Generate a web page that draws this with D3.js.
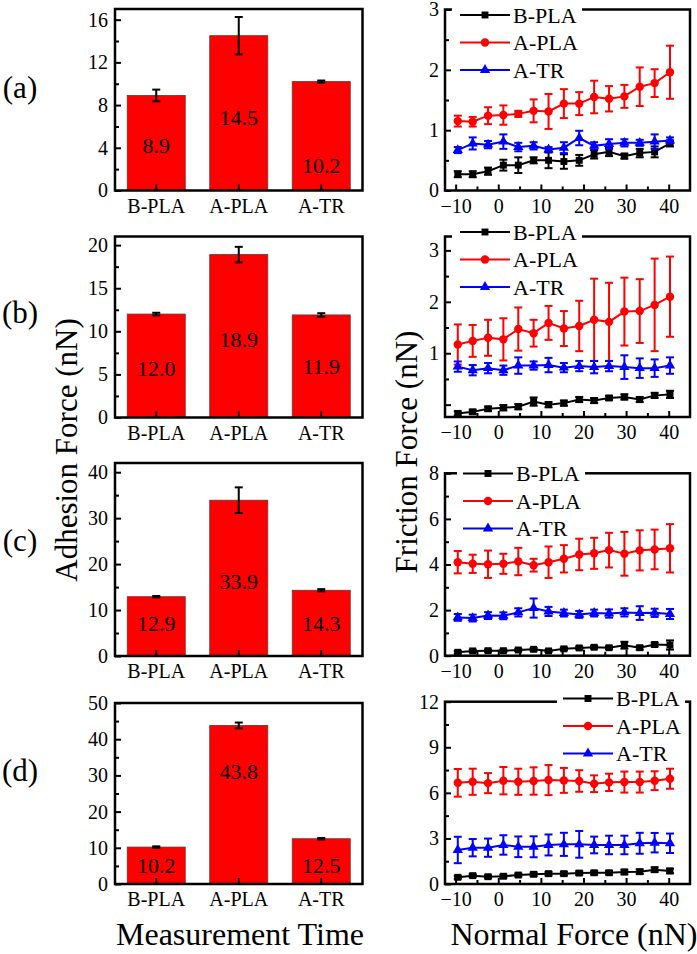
<!DOCTYPE html>
<html><head><meta charset="utf-8">
<script src="https://cdn.jsdelivr.net/npm/d3@7"></script>
<style>
body{margin:0;background:#fff}
svg{display:block}
text{font-family:"Liberation Serif","Times New Roman",serif;fill:#000}
</style>
</head><body>
<svg id="chart" width="697" height="954"></svg>
<script>
// ---------- data ----------
const categories = ["B-PLA", "A-PLA", "A-TR"];
const panelLetters = ["(a)", "(b)", "(c)", "(d)"];

const adhesionA = [8.9, 14.5, 10.2];
const adhesionAErr = [0.55, 1.75, 0.1];
const adhesionB = [12.0, 18.9, 11.9];
const adhesionBErr = [0.15, 0.9, 0.2];
const adhesionC = [12.9, 33.9, 14.3];
const adhesionCErr = [0.15, 2.8, 0.25];
const adhesionD = [10.2, 43.8, 12.5];
const adhesionDErr = [0.2, 0.8, 0.2];

// where the printed value sits inside each bar (data units)
const labelAtA = [4.2, 6.8, 2.3];
const labelAtB = [5.7, 9.0, 5.9];
const labelAtC = [7.0, 16.3, 7.0];
const labelAtD = [5.0, 31.2, 5.0];

const normalForce = [-9.5, -6, -2.4, 1.2, 4.7, 8.3, 11.8, 15.4, 19, 22.5, 26, 29.6, 33.2, 36.7, 40.3];
const normalTicks = [-10, 0, 10, 20, 30, 40];
const normalMinor = [-5, 5, 15, 25, 35];

const seriesNames = ["B-PLA", "A-PLA", "A-TR"];

// (a)
const fricA_B = [0.27, 0.27, 0.32, 0.42, 0.42, 0.50, 0.50, 0.48, 0.50, 0.60, 0.64, 0.57, 0.62, 0.64, 0.78];
const fricA_Be = [0.05, 0.05, 0.06, 0.09, 0.13, 0.05, 0.13, 0.12, 0.09, 0.07, 0.07, 0.04, 0.07, 0.09, 0.05];
const fricA_A = [1.15, 1.14, 1.24, 1.25, 1.27, 1.32, 1.31, 1.44, 1.44, 1.55, 1.52, 1.56, 1.72, 1.78, 1.96];
const fricA_Ae = [0.09, 0.08, 0.14, 0.16, 0.05, 0.19, 0.29, 0.24, 0.19, 0.27, 0.21, 0.19, 0.32, 0.23, 0.44];
const fricA_T = [0.67, 0.78, 0.76, 0.81, 0.72, 0.74, 0.68, 0.71, 0.87, 0.74, 0.77, 0.79, 0.79, 0.81, 0.83];
const fricA_Te = [0.05, 0.10, 0.06, 0.12, 0.07, 0.06, 0.04, 0.09, 0.12, 0.06, 0.08, 0.06, 0.05, 0.12, 0.05];
// (b)
const fricB_B = [-0.17, -0.14, -0.08, -0.06, -0.04, 0.06, 0.00, 0.03, 0.10, 0.08, 0.13, 0.15, 0.10, 0.18, 0.20];
const fricB_Be = [0.04, 0.04, 0.04, 0.05, 0.05, 0.08, 0.05, 0.05, 0.05, 0.05, 0.04, 0.05, 0.05, 0.05, 0.07];
const fricB_A = [1.17, 1.24, 1.30, 1.27, 1.47, 1.39, 1.59, 1.48, 1.53, 1.65, 1.61, 1.81, 1.82, 1.94, 2.10];
const fricB_Ae = [0.39, 0.31, 0.35, 0.41, 0.42, 0.26, 0.33, 0.34, 0.49, 0.80, 0.76, 0.66, 0.62, 0.90, 0.78];
const fricB_T = [0.74, 0.67, 0.71, 0.67, 0.76, 0.76, 0.77, 0.72, 0.75, 0.73, 0.75, 0.73, 0.71, 0.71, 0.76];
const fricB_Te = [0.10, 0.10, 0.10, 0.09, 0.16, 0.08, 0.14, 0.09, 0.10, 0.12, 0.10, 0.23, 0.19, 0.17, 0.16];
// (c)
const fricC_B = [0.15, 0.21, 0.22, 0.22, 0.25, 0.28, 0.21, 0.30, 0.34, 0.37, 0.35, 0.46, 0.35, 0.49, 0.47];
const fricC_Be = [0.06, 0.05, 0.05, 0.05, 0.05, 0.06, 0.05, 0.06, 0.06, 0.06, 0.06, 0.15, 0.08, 0.08, 0.20];
const fricC_A = [4.10, 4.03, 4.01, 4.03, 4.13, 3.97, 4.10, 4.25, 4.44, 4.49, 4.63, 4.47, 4.62, 4.66, 4.71];
const fricC_Ae = [0.49, 0.40, 0.60, 0.44, 0.60, 0.28, 0.69, 0.60, 0.69, 0.68, 0.76, 0.96, 0.88, 0.87, 1.06];
const fricC_T = [1.68, 1.65, 1.76, 1.75, 1.90, 2.09, 1.94, 1.87, 1.81, 1.87, 1.85, 1.90, 1.87, 1.88, 1.83];
const fricC_Te = [0.15, 0.15, 0.15, 0.15, 0.18, 0.42, 0.20, 0.15, 0.15, 0.15, 0.18, 0.18, 0.30, 0.18, 0.22];
// (d)
const fricD_B = [0.44, 0.55, 0.48, 0.51, 0.59, 0.64, 0.68, 0.68, 0.72, 0.74, 0.74, 0.79, 0.81, 0.94, 0.86];
const fricD_Be = [0.10, 0.10, 0.10, 0.10, 0.10, 0.12, 0.12, 0.12, 0.12, 0.12, 0.12, 0.15, 0.15, 0.15, 0.15];
const fricD_A = [6.66, 6.73, 6.64, 6.80, 6.73, 6.78, 6.84, 6.82, 6.78, 6.60, 6.69, 6.71, 6.71, 6.80, 6.93];
const fricD_Ae = [0.91, 0.86, 0.66, 0.90, 0.86, 0.90, 0.99, 0.82, 0.71, 0.55, 0.57, 0.69, 0.69, 0.62, 0.66];
const fricD_T = [2.24, 2.39, 2.39, 2.57, 2.45, 2.45, 2.57, 2.61, 2.61, 2.57, 2.57, 2.57, 2.68, 2.72, 2.68];
const fricD_Te = [0.87, 0.57, 0.60, 0.64, 0.68, 0.69, 0.69, 0.76, 0.88, 0.55, 0.61, 0.61, 0.69, 0.64, 0.64];

// ---------- layout / style ----------
const svg = d3.select("#chart");
const BAR_X = [115, 362.5];
const LINE_X = [445, 690];
const colors = ["#000000", "#ff0000", "#0000ff"];
const symbols = [d3.symbolSquare, d3.symbolCircle, d3.symbolTriangle];
const symSize = [48, 56, 46];
const letterY = [87, 312, 540, 770];

const barPanels = [
  {top: 9, bottom: 190.5, max: 17, major: [0,4,8,12,16], minor: [2,6,10,14], v: adhesionA, e: adhesionAErr, lab: labelAtA},
  {top: 236.5, bottom: 417.5, max: 21, major: [0,5,10,15,20], minor: [2.5,7.5,12.5,17.5], v: adhesionB, e: adhesionBErr, lab: labelAtB},
  {top: 463, bottom: 656, max: 42, major: [0,10,20,30,40], minor: [5,15,25,35], v: adhesionC, e: adhesionCErr, lab: labelAtC},
  {top: 703, bottom: 884, max: 50, major: [0,10,20,30,40,50], minor: [5,15,25,35,45], v: adhesionD, e: adhesionDErr, lab: labelAtD}
];

const linePanels = [
  {top: 9.5, bottom: 190.5, dom: [0, 3], major: [0,1,2,3], labeled: [0,1,2,3], minor: [0.5,1.5,2.5],
   s: [[fricA_B, fricA_Be], [fricA_A, fricA_Ae], [fricA_T, fricA_Te]], leg: {x: 460, y: 15, box: [452, 582]}},
  {top: 236.5, bottom: 417, dom: [-0.24, 3.27], major: [0,1,2,3], labeled: [1,2,3], minor: [0.5,1.5,2.5],
   s: [[fricB_B, fricB_Be], [fricB_A, fricB_Ae], [fricB_T, fricB_Te]], leg: {x: 460, y: 232, box: [452, 582]}},
  {top: 473.3, bottom: 655.7, dom: [0, 8], major: [0,2,4,6,8], labeled: [0,2,4,6,8], minor: [1,3,5,7],
   s: [[fricC_B, fricC_Be], [fricC_A, fricC_Ae], [fricC_T, fricC_Te]], leg: {x: 463, y: 473.5, box: [457, 585]}},
  {top: 701.7, bottom: 884, dom: [0, 12], major: [0,3,6,9,12], labeled: [0,3,6,9,12], minor: [1.5,4.5,7.5,10.5],
   s: [[fricD_B, fricD_Be], [fricD_A, fricD_Ae], [fricD_T, fricD_Te]], leg: {x: 563, y: 698.5, box: [557, 685]}}
];

const FS = 20;

function styleAxis(g) {
  g.select(".domain").remove();
  g.selectAll(".tick line").attr("stroke", "#000").attr("stroke-width", 2);
  g.selectAll(".tick text").attr("font-size", FS).attr("font-family", "Liberation Serif, Times New Roman, serif");
}

// ---------- bar panels ----------
barPanels.forEach((p, i) => {
  const g = svg.append("g");
  const x = d3.scaleBand().domain(categories).range(BAR_X).paddingInner(0.297).paddingOuter(0.1485);
  const y = d3.scaleLinear().domain([0, p.max]).range([p.bottom, p.top]);

  g.selectAll("rect.bar").data(p.v).join("rect")
    .attr("x", (d, j) => x(categories[j]))
    .attr("y", d => y(d))
    .attr("width", x.bandwidth())
    .attr("height", d => y(0) - y(d))
    .attr("fill", "#ff0000").attr("stroke", "#6b3030").attr("stroke-width", 0.8);

  p.v.forEach((d, j) => {
    const cx = x(categories[j]) + x.bandwidth() / 2;
    const e = p.e[j];
    g.append("line").attr("x1", cx).attr("x2", cx).attr("y1", y(d - e)).attr("y2", y(d + e)).attr("stroke", "#000").attr("stroke-width", 2);
    [d - e, d + e].forEach(v => g.append("line").attr("x1", cx - 4).attr("x2", cx + 4).attr("y1", y(v)).attr("y2", y(v)).attr("stroke", "#000").attr("stroke-width", 2));
    g.append("text").attr("x", cx).attr("y", y(p.lab[j])).attr("text-anchor", "middle").attr("dominant-baseline", "central")
      .attr("font-size", 22).text(d.toFixed(1));
  });

  const ya = g.append("g").attr("transform", `translate(${BAR_X[0]},0)`)
    .call(d3.axisLeft(y).tickValues(p.major).tickSize(-6).tickPadding(7).tickFormat(d3.format("d")));
  styleAxis(ya);
  const ym = g.append("g").attr("transform", `translate(${BAR_X[0]},0)`)
    .call(d3.axisLeft(y).tickValues(p.minor).tickSize(-4).tickFormat(""));
  styleAxis(ym);
  const xa = g.append("g").attr("transform", `translate(0,${p.bottom})`)
    .call(d3.axisBottom(x).tickSize(-6).tickPadding(8));
  styleAxis(xa);

  g.append("rect").attr("x", BAR_X[0]).attr("y", p.top).attr("width", BAR_X[1] - BAR_X[0]).attr("height", p.bottom - p.top)
    .attr("fill", "none").attr("stroke", "#000").attr("stroke-width", 2.5);

  svg.append("text").attr("x", 20).attr("y", letterY[i]).attr("text-anchor", "middle")
    .attr("dominant-baseline", "central").attr("font-size", 31).text(panelLetters[i]);
});

// ---------- line panels ----------
linePanels.forEach((p, i) => {
  const g = svg.append("g");
  const x = d3.scaleLinear().domain([-12.5, 45]).range(LINE_X);
  const y = d3.scaleLinear().domain(p.dom).range([p.bottom, p.top]);

  const xa = g.append("g").attr("transform", `translate(0,${p.bottom})`)
    .call(d3.axisBottom(x).tickValues(normalTicks).tickSize(-6).tickPadding(8).tickFormat(d3.format("d")));
  styleAxis(xa);
  const xm = g.append("g").attr("transform", `translate(0,${p.bottom})`)
    .call(d3.axisBottom(x).tickValues(normalMinor).tickSize(-4).tickFormat(""));
  styleAxis(xm);
  const ya = g.append("g").attr("transform", `translate(${LINE_X[0]},0)`)
    .call(d3.axisLeft(y).tickValues(p.major).tickSize(-6).tickPadding(6)
      .tickFormat(d => p.labeled.includes(d) ? d3.format("d")(d) : ""));
  styleAxis(ya);
  const ym = g.append("g").attr("transform", `translate(${LINE_X[0]},0)`)
    .call(d3.axisLeft(y).tickValues(p.minor).tickSize(-4).tickFormat(""));
  styleAxis(ym);

  g.append("rect").attr("x", LINE_X[0]).attr("y", p.top).attr("width", LINE_X[1] - LINE_X[0]).attr("height", p.bottom - p.top)
    .attr("fill", "none").attr("stroke", "#000").attr("stroke-width", 2.5);

  g.append("rect").attr("x", p.leg.box[0]).attr("y", p.top - 4).attr("width", p.leg.box[1] - p.leg.box[0]).attr("height", 8)
    .attr("fill", "#fff");

  const line = d3.line().x((d, j) => x(normalForce[j])).y(d => y(d));
  p.s.forEach(([vals, errs], k) => {
    const c = colors[k];
    const sg = g.append("g");
    sg.append("path").datum(vals).attr("d", line).attr("fill", "none").attr("stroke", c).attr("stroke-width", 2);
    vals.forEach((v, j) => {
      const cx = x(normalForce[j]);
      sg.append("line").attr("x1", cx).attr("x2", cx).attr("y1", y(v - errs[j])).attr("y2", y(v + errs[j])).attr("stroke", c).attr("stroke-width", 2);
      [v - errs[j], v + errs[j]].forEach(e => sg.append("line").attr("x1", cx - 4).attr("x2", cx + 4).attr("y1", y(e)).attr("y2", y(e)).attr("stroke", c).attr("stroke-width", 2));
    });
    sg.selectAll("path.sym").data(vals).join("path").attr("class", "sym")
      .attr("transform", (d, j) => `translate(${x(normalForce[j])},${y(d)})`)
      .attr("d", d3.symbol().type(symbols[k]).size(symSize[k])).attr("fill", c);
  });

  seriesNames.forEach((name, k) => {
    const ly = p.leg.y + k * 27.5;
    const lg = g.append("g");
    lg.append("line").attr("x1", p.leg.x).attr("x2", p.leg.x + 50).attr("y1", ly).attr("y2", ly).attr("stroke", colors[k]).attr("stroke-width", 2);
    lg.append("path").attr("transform", `translate(${p.leg.x + 25},${ly})`).attr("d", d3.symbol().type(symbols[k]).size(symSize[k])).attr("fill", colors[k]);
    lg.append("text").attr("x", p.leg.x + 53).attr("y", ly).attr("dominant-baseline", "central").attr("font-size", 22).text(name);
  });
});

// ---------- titles ----------
svg.append("text").attr("transform", "translate(66,450) rotate(-90)").attr("text-anchor", "middle").attr("dominant-baseline", "central")
  .attr("font-size", 31).text("Adhesion Force (nN)");
svg.append("text").attr("transform", "translate(406,452) rotate(-90)").attr("text-anchor", "middle").attr("dominant-baseline", "central")
  .attr("font-size", 31).text("Friction Force (nN)");
svg.append("text").attr("x", 240).attr("y", 945).attr("text-anchor", "middle").attr("font-size", 32).text("Measurement Time");
svg.append("text").attr("x", 574).attr("y", 945).attr("text-anchor", "middle").attr("font-size", 32).text("Normal Force (nN)");
</script>
</body></html>
